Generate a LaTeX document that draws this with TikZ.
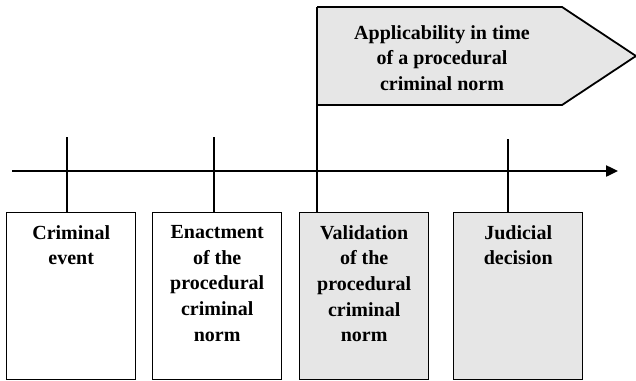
\documentclass[tikz,border=0pt]{standalone}
\usepackage{fontspec}
\setmainfont{Liberation Serif}
\usetikzlibrary{arrows.meta}
\definecolor{boxgray}{HTML}{E6E6E6}
\begin{document}
\begin{tikzpicture}[x=1pt,y=-1pt,
  stepbox/.style={draw=black, line width=1.4pt, minimum width=129pt, minimum height=167pt, inner sep=0pt, anchor=north west},
  boxtext/.style={anchor=north, align=center, inner sep=0pt, font=\bfseries\fontsize{20}{25.7}\selectfont},
  tick/.style={line width=2pt},
  axis/.style={line width=2.4pt, -{Triangle[length=12pt,width=11pt]}}]
\useasboundingbox (0,0) rectangle (636,380);
% flag
\draw[line width=1.8pt, fill=boxgray, line join=miter] (317,7) -- (562,7) -- (636,56) -- (562,105) -- (317,105);
\node[boxtext] (flagtext) at (442,25) {Applicability in time\\of a procedural\\criminal norm};
% boxes
\node[stepbox] (b1) at (6,212) {};
\node[stepbox] (b2) at (152,212) {};
\node[stepbox, fill=boxgray] (b3) at (299,212) {};
\node[stepbox, fill=boxgray] (b4) at (453,212) {};
\node[boxtext] (t1) at ([yshift=-13pt]b1.north) {Criminal\\event};
\node[boxtext] (t2) at ([yshift=-13pt]b2.north) {Enactment\\of the\\procedural\\criminal\\norm};
\node[boxtext] (t3) at ([yshift=-13pt]b3.north) {Validation\\of the\\procedural\\criminal\\norm};
\node[boxtext] (t4) at ([yshift=-13pt]b4.north) {Judicial\\decision};
% ticks
\coordinate (k1) at (67,137);
\coordinate (k2) at (214,137);
\coordinate (k3) at (317,7);
\coordinate (k4) at (508,139);
\draw[tick] (b1.north -| k1) -- (k1);
\draw[tick] (b2.north -| k2) -- (k2);
\draw[tick] (b3.north -| k3) -- (k3);
\draw[tick] (b4.north -| k4) -- (k4);
% axis
\coordinate (a0) at (12,171);
\coordinate (a1) at (618,171);
\draw[axis] (a0) -- (a1);
\end{tikzpicture}
\end{document}
